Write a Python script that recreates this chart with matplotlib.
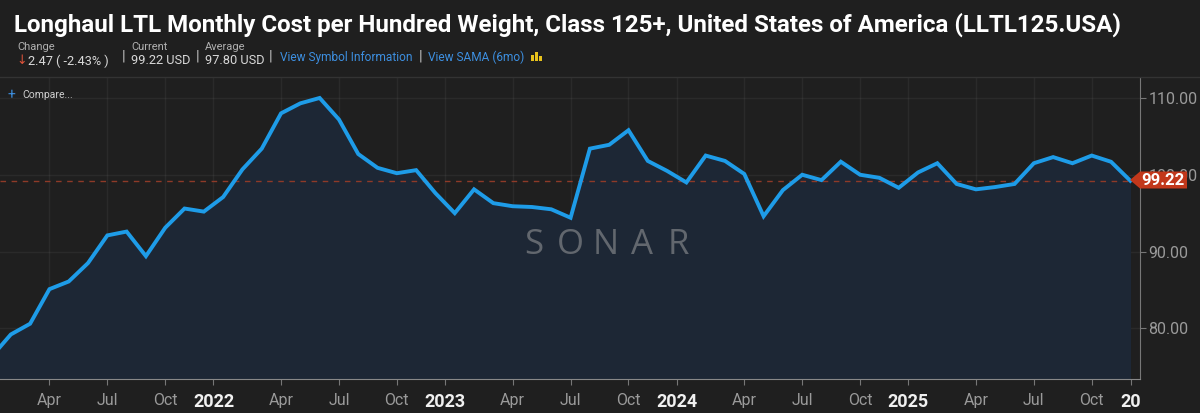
import numpy as np
import matplotlib
matplotlib.use('Agg')
import matplotlib.pyplot as plt
from matplotlib.patches import Polygon, Rectangle
from matplotlib.lines import Line2D

# monthly values, Jan 2021 .. Dec 2025 (USD per cwt)
values = [76.3, 79.2, 80.6, 85.1, 86.1, 88.5, 92.1, 92.6, 89.4, 93.1, 95.6, 95.2,
          97.1, 100.7, 103.4, 108.0, 109.3, 110.0, 107.2, 102.7, 100.9, 100.2, 100.6, 97.6,
          95.0, 98.1, 96.3, 95.9, 95.8, 95.5, 94.4, 103.4, 103.9, 105.8, 101.8, 100.5,
          99.0, 102.5, 101.8, 100.1, 94.6, 98.0, 100.0, 99.3, 101.7, 100.0, 99.6, 98.3,
          100.3, 101.5, 98.8, 98.1, 98.4, 98.8, 101.5, 102.3, 101.5, 102.5, 101.69, 99.22]
last_value = 99.22

# x tick positions in months since Jan 2021
tick_pos = [3, 6, 9, 11.5, 15, 18, 21, 23.5, 27, 30, 33, 35.5, 39, 42, 45, 47.5, 51, 54, 57, 59.04]
tick_labels = ['Apr', 'Jul', 'Oct', '2022', 'Apr', 'Jul', 'Oct', '2023', 'Apr', 'Jul', 'Oct',
               '2024', 'Apr', 'Jul', 'Oct', '2025', 'Apr', 'Jul', 'Oct', '20']
y_ticks = [80, 90, 100, 110]
y_tick_labels = ['80.00', '90.00', '100.00', '110.00']

W, H = 1200, 413
BG = '#1f1f1f'
LINE = '#1e9ce8'
FILL = '#1d2735'
GRAY = '#9a9a9a'

plt.rcParams['font.family'] = ['Roboto', 'DejaVu Sans']


def px(x, y):
    # pixel (from top-left) -> figure fraction
    return x / W, 1 - y / H


fig = plt.figure(figsize=(W / 100, H / 100), dpi=100, facecolor=BG)
ax = fig.add_axes([0, (H - 379) / H, 1140 / W, (379 - 78) / H], facecolor=BG)

x = np.arange(len(values))
ax.fill_between(x, values, 0, color=FILL, zorder=1)
ax.plot(x, values, color=LINE, linewidth=2.8, solid_joinstyle='miter', zorder=3)
ax.axhline(last_value, color='#8e3a28', linewidth=1, linestyle=(0, (4, 4)), zorder=2)

ax.set_xlim(0.44, 59.5)
ax.set_ylim(73.4, 112.6)

# grid
for t in tick_pos[:-1]:
    ax.axvline(t, color='#ffffff', alpha=0.05, linewidth=1, zorder=0.5)
for t in y_ticks:
    ax.axhline(t, color='#ffffff', alpha=0.05, linewidth=1, zorder=0.5)

ax.set_xticks(tick_pos)
ax.set_xticklabels(tick_labels)
for lab in ax.get_xticklabels():
    if lab.get_text().startswith('20'):
        lab.set_color('#f0f0f0')
        lab.set_fontweight('bold')
        lab.set_fontsize(13)
    else:
        lab.set_color(GRAY)
        lab.set_fontsize(11.5)
ax.tick_params(axis='x', length=4, color='#777777', pad=6)

ax.yaxis.tick_right()
ax.set_yticks(y_ticks)
ax.set_yticklabels(y_tick_labels)
ax.tick_params(axis='y', length=4, color='#777777', labelcolor=GRAY, labelsize=11.5, pad=2)

for s in ['top', 'left']:
    ax.spines[s].set_visible(False)
ax.spines['bottom'].set_color('#888888')
ax.spines['right'].set_color('#777777')

# current value tag
tag = Polygon([px(1130, 180), px(1140, 171.5), px(1187, 171.5), px(1187, 188.5), px(1140, 188.5)],
              closed=True, transform=fig.transFigure, facecolor='#c2381b', edgecolor='none', zorder=10)
fig.patches.append(tag)
fig.text(*px(1163, 180.5), f'{last_value:.2f}', color='white', fontsize=12, fontweight='bold',
         ha='center', va='center', zorder=11)

# watermark
for i, ch in enumerate('SONAR'):
    fig.text(*px(534 + i * 36, 245), ch, color='#62676e', fontsize=25, fontweight='normal',
             ha='center', va='center', family=['Open Sans', 'DejaVu Sans'])

# header
fig.add_artist(Line2D([0, 1], [1 - 77 / H, 1 - 77 / H], color='#333333', linewidth=1))
title = fig.text(*px(14, 25), 'Longhaul LTL Monthly Cost per Hundred Weight, Class 125+, '
                 'United States of America (LLTL125.USA)', color='white', fontsize=16,
                 fontweight='bold', ha='left', va='center')
fig.canvas.draw()
w = title.get_window_extent().width
title.set_fontsize(16 * 1108 / w)

small = dict(color='#b0b0b0', fontsize=8, va='center', ha='left')
val = dict(color='#d8d8d8', fontsize=9.2, va='center', ha='left')
fig.text(*px(17, 47), 'Change', **small)
fig.text(*px(16, 61), '↓', color='#e0533a', fontsize=9, va='center', ha='left',
         family=['DejaVu Sans'])
fig.text(*px(28, 61), '2.47 ( -2.43% )', **val)
fig.text(*px(131, 47), 'Current', **small)
fig.text(*px(131, 61), '99.22 USD', **val)
fig.text(*px(205, 47), 'Average', **small)
fig.text(*px(205, 61), '97.80 USD', **val)
for xs in [124, 198, 271, 421]:
    fig.text(*px(xs, 56), '|', color='#bbbbbb', fontsize=11, va='center', ha='center')
fig.text(*px(280, 57), 'View Symbol Information', color='#3d8fe0', fontsize=8.6,
         va='center', ha='left')
fig.text(*px(428, 57), 'View SAMA (6mo)', color='#3d8fe0', fontsize=8.6,
         va='center', ha='left')
# small yellow icon
for i, hgt in enumerate([6, 9, 5]):
    fig.patches.append(Rectangle(px(531 + i * 4, 61), 3 / W, hgt / H,
                                 transform=fig.transFigure, facecolor='#e8c21c'))

fig.text(*px(8, 95), '+', color='#3d8fe0', fontsize=10, va='center', ha='left')
fig.text(*px(22, 95), 'Compare...', color='#cfcfcf', fontsize=7.5, va='center', ha='left')

fig.savefig('out.png', dpi=100, facecolor=BG)
